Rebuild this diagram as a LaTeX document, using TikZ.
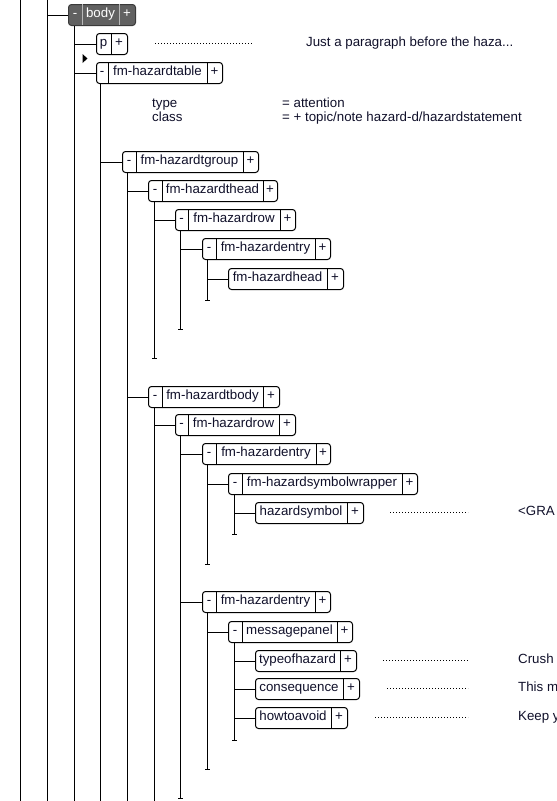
\documentclass[tikz,border=0pt]{standalone}
\usepackage{fontspec}
\setmainfont{Liberation Sans}
\usetikzlibrary{arrows.meta}
\definecolor{bodyfill}{HTML}{616161}
\definecolor{bodyline}{HTML}{3A3A3A}
\definecolor{bodydiv}{HTML}{B8B8B8}
\definecolor{inkcol}{HTML}{10102A}
\tikzset{
 tb/.style={draw, rounded corners=3pt, fill=white, line width=1pt, minimum height=21pt, inner sep=0pt, anchor=north west},
 bodybox/.style={tb, fill=bodyfill, draw=bodyline},
 divline/.style={line width=1pt},
 bodydivline/.style={line width=1pt, draw=bodydiv},
 txt/.style={font=\fontsize{13.3}{15}\selectfont, inner sep=0pt, text height=9.5pt, text depth=2.8pt, text=inkcol},
 wtxt/.style={txt, text=white},
 lnk/.style={line width=1pt},
 tickend/.style={lnk, -{Bar[width=5pt,line width=1pt]}},
 leader/.style={line width=1pt, dash pattern=on 1pt off 2pt},
}
% box with minus / name / plus: name, x1, d1, d2, x2, top, label
\newcommand\MBox[7]{%
  \node[tb, minimum width={(#5)-(#2)}] (#1) at (#2,#6) {};
  \draw[divline] (#3,#6) -- (#3,#6+21);
  \draw[divline] (#4,#6) -- (#4,#6+21);
  \node[txt] (#1-m) at ({(#2+#3)/2},#6+10.5) {-};
  \node[txt] (#1-t) at ({(#3+#4)/2},#6+10.5) {#7};
  \node[txt] (#1-p) at ({(#4+#5)/2},#6+10.5) {+};
}
% leaf box name / plus: name, x1, d, x2, top, label
\newcommand\LBox[6]{%
  \node[tb, minimum width={(#4)-(#2)}] (#1) at (#2,#5) {};
  \draw[divline] (#3,#5) -- (#3,#5+21);
  \node[txt] (#1-t) at ({(#2+#3)/2},#5+10.5) {#6};
  \node[txt] (#1-p) at ({(#3+#4)/2},#5+10.5) {+};
}
\begin{document}
\begin{tikzpicture}[x=1pt,y=-1pt]
\useasboundingbox (0,0) rectangle (557,801);

% outer ancestor lines
\coordinate (a1-top) at (20,0);
\coordinate (a1-end) at (20,801);
\coordinate (a2-top) at (47,0);
\coordinate (a2-end) at (47,801);
\draw[lnk] (a1-top) -- (a1-end);
\draw[lnk] (a2-top) -- (a2-end);

% body
\node[bodybox, minimum width=67pt] (body) at (68,4) {};
\draw[bodydivline] (82,4) -- (82,25);
\draw[bodydivline] (119,4) -- (119,25);
\node[wtxt] (body-m) at (75,14.5) {-};
\node[wtxt] (body-t) at (100.5,14.5) {body};
\node[wtxt] (body-p) at (127,14.5) {+};
\draw[lnk] (a2-top |- body.west) -- (body.west);

% boxes
\LBox{p}{96}{111}{127}{33}{p}
\MBox{table}{96}{108}{207}{222}{62}{fm-hazardtable}
\MBox{tgroup}{122}{136}{243}{258}{151}{fm-hazardtgroup}
\MBox{thead}{148}{162}{263}{277}{180}{fm-hazardthead}
\MBox{rowa}{175}{188}{280}{295}{209}{fm-hazardrow}
\MBox{entrya}{202}{216}{315}{330}{238}{fm-hazardentry}
\LBox{hhead}{228}{327}{343}{268}{fm-hazardhead}
\MBox{tbody}{148}{162}{263}{279}{386}{fm-hazardtbody}
\MBox{rowb}{175}{188}{279}{295}{414}{fm-hazardrow}
\MBox{entryb}{202}{216}{316}{330}{443}{fm-hazardentry}
\MBox{wrap}{228}{242}{402}{417}{473}{fm-hazardsymbolwrapper}
\LBox{hsym}{255}{347}{363}{502}{hazardsymbol}
\MBox{entryc}{202}{216}{315}{330}{591}{fm-hazardentry}
\MBox{mpanel}{228}{242}{337}{352}{621}{messagepanel}
\LBox{toh}{255}{340}{356}{650}{typeofhazard}
\LBox{cons}{255}{343}{359}{678}{consequence}
\LBox{hta}{255}{331}{347}{707}{howtoavoid}

% insertion marker
\fill (82.5,54) -- (87.5,58.5) -- (82.5,63) -- cycle;

% tree lines
\coordinate (body-end) at (74,801);
\draw[lnk] (body-end |- body.south) -- (body-end);
\draw[lnk] (body-end |- p.west) -- (p.west);
\draw[lnk] (body-end |- table.west) -- (table.west);

\coordinate (table-end) at (100,801);
\draw[lnk] (table-end |- table.south) -- (table-end);
\draw[lnk] (table-end |- tgroup.west) -- (tgroup.west);

\coordinate (tgroup-end) at (127,801);
\draw[lnk] (tgroup-end |- tgroup.south) -- (tgroup-end);
\draw[lnk] (tgroup-end |- thead.west) -- (thead.west);
\draw[lnk] (tgroup-end |- tbody.west) -- (tbody.west);

\coordinate (thead-end) at (154,359);
\draw[tickend] (thead-end |- thead.south) -- (thead-end);
\draw[lnk] (thead-end |- rowa.west) -- (rowa.west);

\coordinate (rowa-end) at (180,330);
\draw[tickend] (rowa-end |- rowa.south) -- (rowa-end);
\draw[lnk] (rowa-end |- entrya.west) -- (entrya.west);

\coordinate (entrya-end) at (207,301);
\draw[tickend] (entrya-end |- entrya.south) -- (entrya-end);
\draw[lnk] (entrya-end |- hhead.west) -- (hhead.west);

\coordinate (tbody-end) at (154,801);
\draw[lnk] (tbody-end |- tbody.south) -- (tbody-end);
\draw[lnk] (tbody-end |- rowb.west) -- (rowb.west);

\coordinate (rowb-end) at (180,799);
\draw[tickend] (rowb-end |- rowb.south) -- (rowb-end);
\draw[lnk] (rowb-end |- entryb.west) -- (entryb.west);
\draw[lnk] (rowb-end |- entryc.west) -- (entryc.west);

\coordinate (entryb-end) at (207,565);
\draw[tickend] (entryb-end |- entryb.south) -- (entryb-end);
\draw[lnk] (entryb-end |- wrap.west) -- (wrap.west);

\coordinate (wrap-end) at (234,535);
\draw[tickend] (wrap-end |- wrap.south) -- (wrap-end);
\draw[lnk] (wrap-end |- hsym.west) -- (hsym.west);

\coordinate (entryc-end) at (207,770);
\draw[tickend] (entryc-end |- entryc.south) -- (entryc-end);
\draw[lnk] (entryc-end |- mpanel.west) -- (mpanel.west);

\coordinate (mpanel-end) at (234,741);
\draw[tickend] (mpanel-end |- mpanel.south) -- (mpanel-end);
\draw[lnk] (mpanel-end |- toh.west) -- (toh.west);
\draw[lnk] (mpanel-end |- cons.west) -- (cons.west);
\draw[lnk] (mpanel-end |- hta.west) -- (hta.west);

% attributes
\node[txt, anchor=west] (attr-type) at (152,104) {type};
\node[txt, anchor=west] (attr-class) at (152,118) {class};
\node[txt, anchor=west] (val-type) at (282,104) {= attention};
\node[txt, anchor=west] (val-class) at (282,118) {= + topic/note hazard-d/hazardstatement};

% content texts with leaders
\node[txt, anchor=west] (p-val) at (306,43.5) {Just a paragraph before the haza...};
\coordinate (p-ld) at (155,43.5);
\draw[leader] (p-ld) -- (252,43.5);

\node[txt, anchor=west] (hsym-val) at (518,512.5) {<GRA};
\coordinate (hsym-ld) at (390,512.5);
\draw[leader] (hsym-ld) -- (468,512.5);

\node[txt, anchor=west] (toh-val) at (518,660.5) {Crush};
\coordinate (toh-ld) at (383,660.5);
\draw[leader] (toh-ld) -- (468,660.5);

\node[txt, anchor=west] (cons-val) at (518,688.5) {This m};
\coordinate (cons-ld) at (387,688.5);
\draw[leader] (cons-ld) -- (468,688.5);

\node[txt, anchor=west] (hta-val) at (518,717.5) {Keep y};
\coordinate (hta-ld) at (375,717.5);
\draw[leader] (hta-ld) -- (468,717.5);
\end{tikzpicture}
\end{document}
